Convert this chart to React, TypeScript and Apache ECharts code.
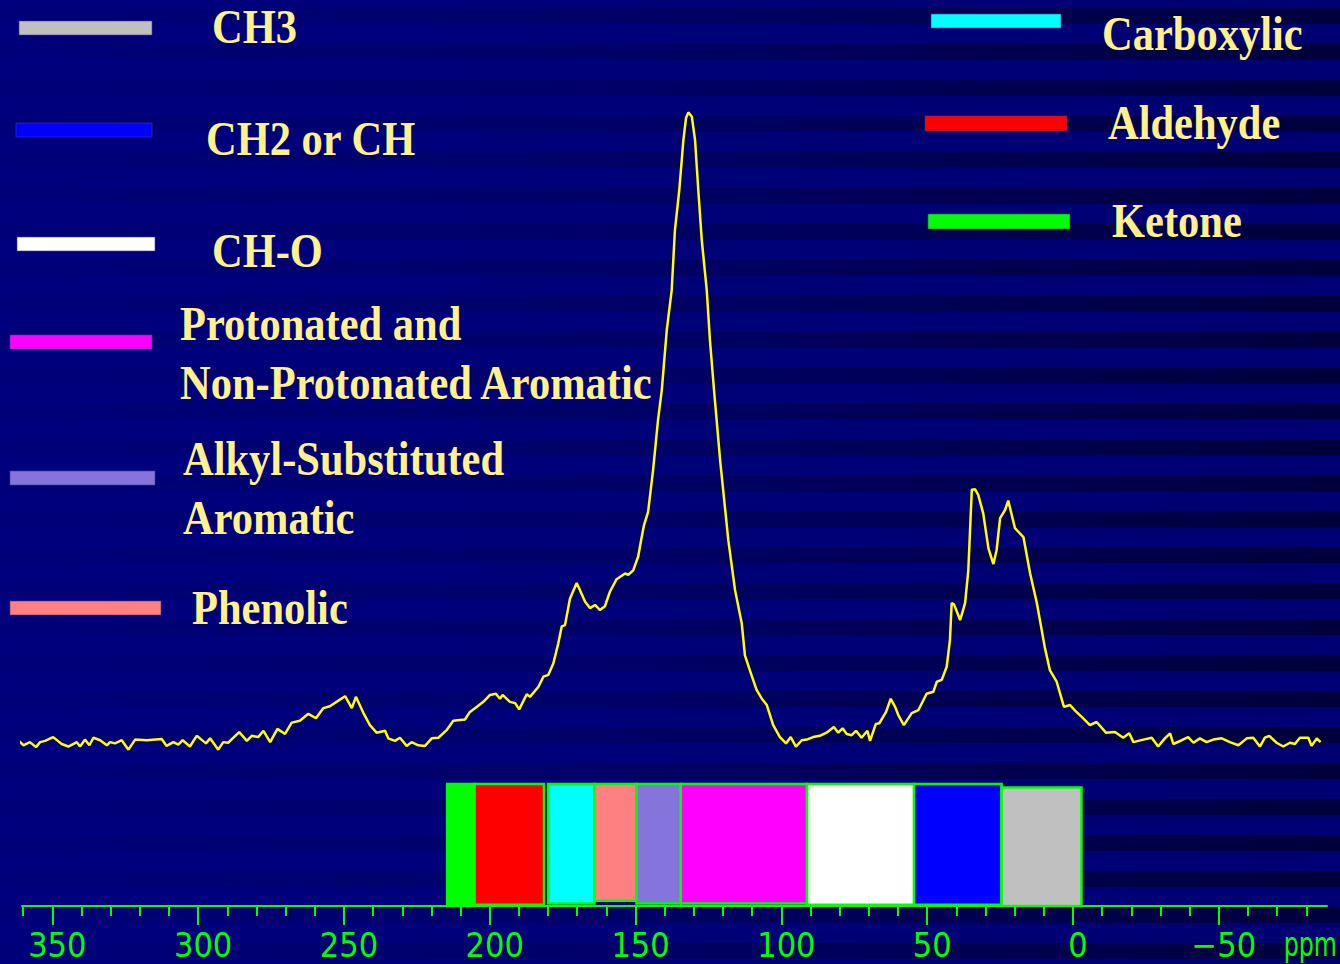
import React, { useEffect, useRef } from 'react';
import * as echarts from 'echarts';

// 13C NMR spectrum: chemical shift (ppm) and relative intensity (main peak = 100)
const shiftPpm = [
  362.2, 359.9, 357.7, 355.6, 354.2, 352.5, 349.7, 346.8, 344.5, 341.6,
  340.5, 338.8, 337.3, 335.9, 333.6, 331.3, 330.2, 328.5, 326.2, 323.9,
  321.6, 317.6, 312.5, 310.8, 308.5, 306.8, 305.3, 302.8, 300.5, 299.4,
  297.3, 295.9, 293.1, 291.4, 289.7, 287.9, 285.9, 283.3, 281.6, 279.4,
  277.6, 275.3, 272.8, 270.2, 267.9, 265.1, 262.2, 259.6, 257.1, 254.8,
  251.9, 249.6, 247.3, 245.9, 243.4, 241.1, 238.8, 235.9, 234.8, 232.5,
  230.8, 228.5, 226.8, 224.5, 222.2, 219.9, 217.6, 214.8, 212.5, 208.5,
  206.8, 204.5, 202.2, 199.9, 197.9, 196.5, 195.6, 193.1, 191.3, 189.9,
  187.3, 186.2, 183.3, 181.6, 179.9, 178.2, 176.5, 175.3, 174.2, 172.5,
  170.2, 169.1, 167.3, 165.6, 163.9, 162.2, 160.5, 158.8, 156.5, 153.6,
  152.5, 150.8, 149.1, 148.1, 147.1, 145.7, 144.0, 142.3, 141.0, 139.3,
  137.6, 136.5, 135.0, 133.6, 132.7, 131.9, 130.7, 129.6, 128.5, 127.3,
  125.6, 124.5, 123.1, 121.0, 118.2, 115.9, 113.6, 112.5, 110.8, 108.5,
  106.7, 105.0, 102.8, 100.5, 98.4, 96.8, 95.0, 93.0, 91.3, 89.1,
  86.8, 84.5, 82.0, 80.5, 79.0, 77.6, 75.9, 74.4, 72.5, 70.5,
  69.6, 67.6, 66.4, 64.1, 62.5, 61.0, 59.9, 58.0, 55.3, 53.0,
  50.2, 47.9, 46.7, 45.0, 43.3, 42.2, 41.6, 40.8, 38.7, 37.0,
  35.9, 34.7, 33.6, 32.5, 30.8, 29.0, 27.3, 26.2, 25.0, 23.3,
  22.2, 19.9, 17.0, 14.7, 12.4, 9.6, 7.9, 5.6, 3.1, 1.0,
  -0.7, -3.0, -5.8, -8.1, -11.3, -14.4, -17.2, -19.3, -20.7, -24.1,
  -27.0, -29.2, -31.5, -33.3, -34.4, -37.3, -39.5, -41.3, -43.5, -45.8,
  -48.1, -51.0, -53.8, -56.7, -59.6, -61.8, -64.1, -65.8, -67.3, -69.8,
  -72.1, -74.4, -76.1, -77.8, -80.7, -81.8, -83.6, -84.9,
];

const intensity = [
  0.5, -0.5, 0.0, -0.8, 0.0, 0.2, 0.8, -0.3, -0.7, 0.0,
  -0.7, 0.4, -0.5, 0.7, 0.3, -0.5, 0.0, -0.2, 0.3, -1.2,
  0.4, 0.3, 0.5, -0.6, 0.0, -0.4, 0.3, -0.7, 1.0, 0.6,
  -0.2, 0.6, -1.2, 0.0, -0.1, 0.7, 1.6, 0.2, 1.0, 0.8,
  1.8, 0.0, 2.1, 1.3, 3.1, 3.4, 4.5, 3.8, 5.4, 5.7,
  6.6, 7.3, 5.4, 7.2, 4.7, 2.7, 1.5, 1.8, 0.6, 0.2,
  0.7, -0.6, 0.0, -0.5, -0.6, 0.6, 0.7, 1.9, 3.4, 3.6,
  4.8, 5.6, 6.4, 7.5, 7.7, 6.9, 7.5, 6.4, 6.2, 5.2,
  7.6, 7.2, 8.8, 10.4, 10.7, 12.5, 15.7, 18.4, 18.6, 22.8,
  25.3, 24.2, 22.3, 21.3, 21.8, 21.0, 21.6, 23.9, 25.9, 26.8,
  26.6, 27.3, 29.5, 32.1, 34.5, 36.6, 43.2, 51.2, 56.0, 65.5,
  71.9, 81.4, 87.8, 95.7, 99.2, 100.1, 99.4, 95.7, 87.8, 79.8,
  71.9, 63.9, 56.0, 44.8, 32.1, 24.2, 18.9, 13.8, 11.4, 8.3,
  6.9, 5.9, 2.7, 0.8, -0.2, 0.8, -0.7, 0.3, 0.4, 0.8,
  1.0, 1.5, 2.4, 1.5, 2.2, 1.3, 1.1, 1.8, 0.7, 1.8,
  0.2, 2.9, 3.0, 4.8, 6.9, 5.6, 4.3, 2.7, 4.6, 5.1,
  7.7, 8.0, 9.6, 9.9, 12.0, 16.2, 22.1, 21.9, 19.4, 22.1,
  27.3, 40.1, 40.2, 39.3, 36.4, 30.8, 28.3, 30.5, 35.6, 36.9,
  38.4, 34.0, 32.6, 26.8, 22.1, 14.9, 11.4, 9.6, 5.6, 5.9,
  5.0, 4.0, 2.7, 3.2, 1.5, 1.6, 0.7, 1.4, 0.0, 0.4,
  0.7, -0.7, 0.6, 1.4, -0.3, 0.3, 0.8, -0.1, 0.6, 0.0,
  0.4, 0.6, 0.0, -0.5, 0.6, 0.7, -0.7, 0.7, 1.0, -0.1,
  -0.7, -0.1, -0.3, 0.7, 0.7, -0.6, 0.6, 0.0,
];

// Functional-group chemical shift ranges (ppm)
const groupNames = [
  'Ketone', 'Aldehyde', 'Carboxylic', 'Phenolic',
  'Alkyl-Substituted\nAromatic', 'Protonated and\nNon-Protonated Aromatic',
  'CH-O', 'CH2 or CH', 'CH3',
];
const groupColors = [
  '#00FF00', '#FF0000', '#00FFFF', '#FF8080',
  '#8474DC', '#FF00FF', '#FFFFFF', '#0000FF', '#C0C0C0',
];
const groupFrom = [214.6, 205.2, 180.0, 164.1, 149.7, 134.5, 91.2, 54.5, 24.5];
const groupTo = [205.2, 181.4, 164.1, 149.7, 134.5, 91.2, 54.5, 24.5, -2.9];

// Axis ticks (ppm)
const majorTicks = [350, 300, 250, 200, 150, 100, 50, 0, -50];
const minorTicks = [
  360, 340, 330, 320, 310, 290, 280, 270, 260, 240, 230, 220, 210,
  190, 180, 170, 160, 140, 130, 120, 110, 90, 80, 70, 60, 40, 30, 20, 10,
  -10, -20, -30, -40, -60, -70, -80,
];

// ---- layout ----
const W = 1340;
const H = 964;
const AXIS_MIN = -87.1;
const AXIS_MAX = 360.4;
const GREEN = '#00FF00';
const TEXT_YELLOW = '#FFF18C';
const AXIS_FONT = '"Liberation Sans Narrow", "DejaVu Sans Condensed", "Arial Narrow", sans-serif';
const LEGEND_FONT = 'bold 42.5px "Liberation Serif", "Times New Roman", serif';

// range boxes: vertical extent inside the lower strip (fraction of its height)
const boxTop = [1, 1, 1, 1, 1, 1, 1, 1, 0.971];
const boxBottom = [0, 0.01, 0.02, 0.043, 0.02, 0.02, 0.01, 0.01, 0];

// legend swatches [x, y, w, h] and label anchors [x, yMiddle], in group order
const legendSwatch = [
  [928, 214, 142, 15], [925, 116, 142, 15], [931, 14, 130, 14], [10, 601, 151, 14],
  [10, 471, 145, 14], [10, 335, 142, 14], [17, 237, 138, 14], [16, 123, 136, 14],
  [19, 21, 133, 14],
];
const legendLabel = [
  [1112, 220], [1108, 122], [1102, 33], [192, 607],
  [183, 488], [180, 353], [212, 250], [206, 138], [212, 26],
];

function buildGraphics() {
  const els: any[] = [];
  els.push({
    type: 'rect',
    z: 0,
    silent: true,
    shape: { x: 0, y: 0, width: W, height: H },
    style: {
      fill: new echarts.graphic.LinearGradient(0, 0, 1, 0, [
        { offset: 0, color: '#00007E' },
        { offset: 1, color: '#000072' },
      ]),
    },
  });
  const stripeFill = new echarts.graphic.LinearGradient(0, 0, 1, 0, [
    { offset: 0, color: '#00007A' },
    { offset: 0.45, color: '#000068' },
    { offset: 1, color: '#00003C' },
  ]);
  for (let y = 8.3; y < H; y += 35.95) {
    els.push({
      type: 'rect',
      z: 1,
      silent: true,
      shape: { x: 0, y, width: W, height: 15.8 },
      style: { fill: stripeFill },
    });
  }
  groupNames.forEach((name, i) => {
    const [sx, sy, sw, sh] = legendSwatch[i];
    els.push({
      type: 'rect',
      z: 5,
      shape: { x: sx, y: sy, width: sw, height: sh },
      style: { fill: groupColors[i], stroke: 'rgba(60,60,140,0.6)', lineWidth: 1 },
    });
    const [tx, ty] = legendLabel[i];
    els.push({
      type: 'text',
      z: 5,
      x: tx,
      y: ty,
      scaleY: 1.15,
      style: {
        text: name,
        fill: TEXT_YELLOW,
        font: LEGEND_FONT,
        lineHeight: 52,
        align: 'left',
        verticalAlign: 'middle',
        textAlign: 'left',
        textVerticalAlign: 'middle',
      },
    });
  });
  // unit label at the right end of the shift axis
  els.push({
    type: 'text',
    z: 12,
    x: 1337,
    y: 928,
    scaleX: 0.8,
    style: {
      text: 'ppm',
      fill: GREEN,
      fontSize: 33,
      fontFamily: AXIS_FONT,
      align: 'right',
      verticalAlign: 'top',
      textAlign: 'right',
      textVerticalAlign: 'top',
    },
  });
  return els;
}

export default function App() {
  const ref = useRef<HTMLDivElement>(null);

  useEffect(() => {
    if (!ref.current) return;
    const chart = echarts.init(ref.current, undefined, { renderer: 'svg' });

    const spectrum = shiftPpm.map((p, i) => [p, intensity[i]]);
    const ranges = groupNames.map((_, i) => [groupFrom[i], groupTo[i], boxTop[i], boxBottom[i], i]);

    const hiddenY = { show: false, axisLine: { show: false }, axisTick: { show: false }, axisLabel: { show: false }, splitLine: { show: false } };

    chart.setOption({
      animation: false,
      backgroundColor: '#00007A',
      grid: [
        { left: 22, right: 13, top: 113, bottom: 203 },
        { left: 22, right: 13, top: 784, bottom: 58 },
      ],
      xAxis: [
        {
          gridIndex: 0, type: 'value', min: AXIS_MIN, max: AXIS_MAX, inverse: true, show: false,
        },
        {
          gridIndex: 1, type: 'value', min: AXIS_MIN, max: AXIS_MAX, inverse: true, position: 'bottom',
          z: 10,
          axisLine: { show: true, lineStyle: { color: GREEN, width: 2 } },
          axisTick: { show: true, customValues: minorTicks, length: 10, lineStyle: { color: GREEN, width: 2 } },
          axisLabel: { show: false },
          splitLine: { show: false },
        },
        {
          gridIndex: 1, type: 'value', min: AXIS_MIN, max: AXIS_MAX, inverse: true, position: 'bottom',
          z: 10,
          axisLine: { show: false },
          axisTick: { show: true, customValues: majorTicks, length: 19, lineStyle: { color: GREEN, width: 2 } },
          axisLabel: {
            show: true,
            customValues: majorTicks,
            color: GREEN,
            fontSize: 34,
            fontFamily: AXIS_FONT,
            margin: 22,
            padding: [0, 0, 0, 10],
            formatter: (v: number) => (v < 0 ? '\u2212' + Math.abs(v) : String(v)),
          },
          splitLine: { show: false },
        },
      ],
      yAxis: [
        { gridIndex: 0, type: 'value', min: -3, max: 100, ...hiddenY },
        { gridIndex: 1, type: 'value', min: 0, max: 1, ...hiddenY },
      ],
      graphic: { elements: buildGraphics() },
      series: [
        {
          name: 'Functional group ranges',
          type: 'custom',
          xAxisIndex: 1,
          yAxisIndex: 1,
          z: 3,
          silent: true,
          encode: { x: [0, 1], y: [2, 3] },
          data: ranges,
          renderItem: (_params: any, api: any) => {
            const a = api.coord([api.value(0), api.value(2)]);
            const b = api.coord([api.value(1), api.value(3)]);
            const idx = api.value(4);
            return {
              type: 'rect',
              shape: {
                x: Math.min(a[0], b[0]),
                y: Math.min(a[1], b[1]),
                width: Math.abs(b[0] - a[0]),
                height: Math.abs(b[1] - a[1]),
              },
              style: { fill: groupColors[idx], stroke: GREEN, lineWidth: 2.5 },
            };
          },
        },
        {
          name: 'Spectrum',
          type: 'line',
          xAxisIndex: 0,
          yAxisIndex: 0,
          z: 4,
          data: spectrum,
          showSymbol: false,
          clip: false,
          silent: true,
          lineStyle: { color: '#FFFF00', width: 2.5 },
        },
      ],
    });

    return () => chart.dispose();
  }, []);

  return (
    <div
      ref={ref}
      style={{ position: 'fixed', left: 0, top: 0, width: W, height: H }}
    />
  );
}
